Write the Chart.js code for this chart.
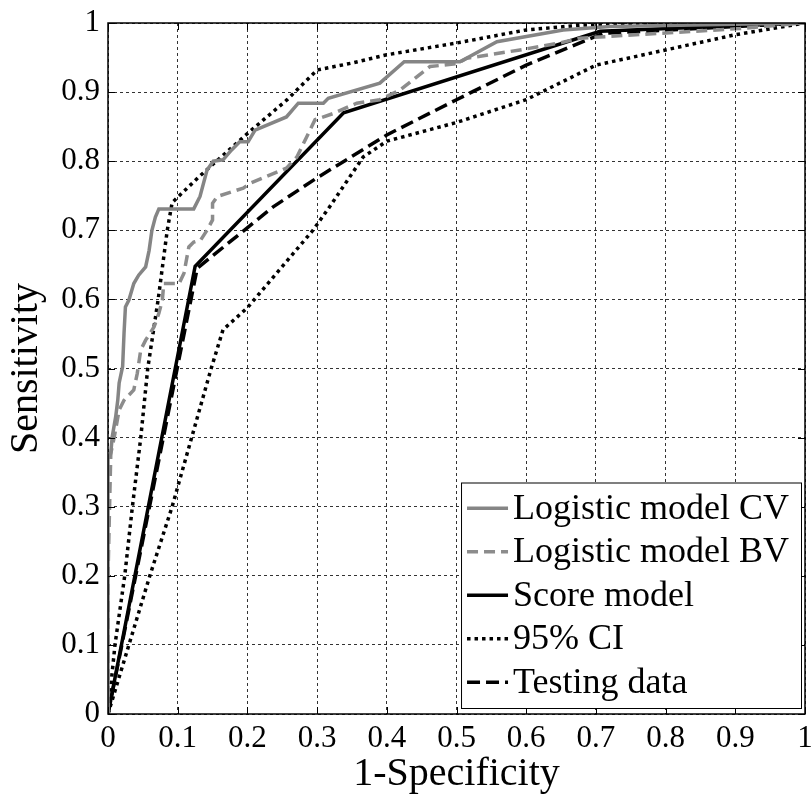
<!DOCTYPE html>
<html>
<head>
<meta charset="utf-8">
<script src="https://cdn.jsdelivr.net/npm/chart.js@4/dist/chart.umd.min.js"></script>
<style>
  html, body { margin: 0; padding: 0; background: #fff; }
  #wrap { width: 812px; height: 798px; }
</style>
</head>
<body>
<div id="wrap"><canvas id="rocChart"></canvas></div>
<script>
// valores (1-especificidad, sensibilidad)
const cvX = [0, 0, 0.004, 0.006, 0.011, 0.014, 0.016, 0.021, 0.023, 0.025, 0.03, 0.037, 0.044, 0.054, 0.059, 0.063, 0.068, 0.073, 0.123, 0.132, 0.142, 0.151, 0.165, 0.177, 0.189, 0.201, 0.211, 0.256, 0.273, 0.309, 0.316, 0.39, 0.425, 0.505, 0.558, 0.653, 0.72, 1];
const cvY = [0, 0.37, 0.377, 0.401, 0.43, 0.454, 0.479, 0.503, 0.551, 0.589, 0.599, 0.623, 0.635, 0.647, 0.671, 0.70, 0.719, 0.731, 0.731, 0.749, 0.787, 0.8, 0.802, 0.816, 0.828, 0.828, 0.845, 0.864, 0.884, 0.884, 0.891, 0.913, 0.944, 0.944, 0.973, 0.99, 0.995, 1];

const bvX = [0, 0, 0.004, 0.009, 0.016, 0.023, 0.037, 0.042, 0.047, 0.054, 0.066, 0.073, 0.078, 0.08, 0.102, 0.109, 0.116, 0.123, 0.133, 0.142, 0.15, 0.15, 0.157, 0.194, 0.204, 0.256, 0.271, 0.297, 0.323, 0.357, 0.39, 0.419, 0.462, 0.5, 0.515, 0.591, 0.648, 0.677, 0.79, 0.907, 1];
const bvY = [0, 0.2, 0.377, 0.401, 0.44, 0.454, 0.469, 0.493, 0.527, 0.541, 0.56, 0.58, 0.599, 0.623, 0.623, 0.638, 0.676, 0.683, 0.686, 0.70, 0.715, 0.739, 0.749, 0.761, 0.768, 0.79, 0.806, 0.86, 0.869, 0.884, 0.889, 0.903, 0.937, 0.941, 0.949, 0.961, 0.971, 0.978, 0.985, 0.992, 1];

const scoreX = [0, 0.125, 0.338, 0.706, 1];
const scoreY = [0, 0.648, 0.87, 0.988, 1];

const ciUpX = [0, 0.01, 0.024, 0.035, 0.047, 0.057, 0.072, 0.085, 0.092, 0.13, 0.2, 0.257, 0.3, 0.35, 0.4, 0.5, 0.6, 0.68, 1];
const ciUpY = [0, 0.1, 0.2, 0.3, 0.4, 0.5, 0.6, 0.7, 0.74, 0.777, 0.84, 0.889, 0.932, 0.942, 0.954, 0.971, 0.99, 0.997, 1];

const ciLowX = [0, 0.03, 0.06, 0.092, 0.12, 0.148, 0.165, 0.2, 0.294, 0.318, 0.366, 0.4, 0.5, 0.6, 0.7, 0.8, 0.9, 1];
const ciLowY = [0, 0.1, 0.2, 0.3, 0.4, 0.5, 0.556, 0.588, 0.7, 0.734, 0.806, 0.829, 0.856, 0.889, 0.939, 0.961, 0.983, 1];

const testX = [0, 0.128, 0.237, 0.3, 0.4, 0.5, 0.6, 0.71, 1];
const testY = [0, 0.645, 0.734, 0.776, 0.838, 0.889, 0.939, 0.985, 1];

const tickValues = [0, 0.1, 0.2, 0.3, 0.4, 0.5, 0.6, 0.7, 0.8, 0.9, 1];

const FONT = '"Liberation Serif", "Times New Roman", serif';

const puntos = (xs, ys) => xs.map((x, i) => ({ x: x, y: ys[i] }));

// marco negro y marcas hacia dentro
const marco = {
    id: 'marco',
    afterDatasetsDraw(chart) {
        const { ctx, chartArea: a, scales } = chart;
        ctx.save();
        ctx.strokeStyle = '#000';
        ctx.lineWidth = 1.5;
        ctx.setLineDash([]);
        ctx.strokeRect(a.left, a.top, a.right - a.left, a.bottom - a.top);
        ctx.lineWidth = 1;
        ctx.beginPath();
        tickValues.forEach(v => {
            const px = Math.round(scales.x.getPixelForValue(v)) + 0.5;
            const py = Math.round(scales.y.getPixelForValue(v)) + 0.5;
            ctx.moveTo(px, a.bottom); ctx.lineTo(px, a.bottom - 7);
            ctx.moveTo(px, a.top); ctx.lineTo(px, a.top + 7);
            ctx.moveTo(a.left, py); ctx.lineTo(a.left + 7, py);
            ctx.moveTo(a.right, py); ctx.lineTo(a.right - 7, py);
        });
        ctx.stroke();
        ctx.restore();
    }
};

// leyenda dentro del area del grafico, abajo a la derecha
const leyenda = {
    id: 'leyenda',
    afterDraw(chart) {
        const { ctx, chartArea: a } = chart;
        const items = chart.data.datasets.filter(d => d.enLeyenda);
        ctx.save();
        ctx.font = '36px ' + FONT;
        const maxW = Math.max(...items.map(d => ctx.measureText(d.label).width));
        const rowH = 43.5;
        const w = 6 + 41 + 5 + maxW + 12;
        const h = items.length * rowH + 8;
        const x0 = a.right - 4 - w;
        const y0 = a.bottom - 6 - h;
        ctx.fillStyle = '#fff';
        ctx.fillRect(x0, y0, w, h);
        ctx.strokeStyle = '#000';
        ctx.lineWidth = 1;
        ctx.setLineDash([]);
        ctx.strokeRect(x0 + 0.5, y0 + 0.5, w, h);
        items.forEach((d, i) => {
            const cy = y0 + 4 + rowH * i + rowH / 2;
            ctx.strokeStyle = d.borderColor;
            ctx.lineWidth = d.borderWidth;
            ctx.setLineDash(d.borderDash || []);
            ctx.beginPath();
            ctx.moveTo(x0 + 6, cy);
            ctx.lineTo(x0 + 47, cy);
            ctx.stroke();
            ctx.setLineDash([]);
            ctx.fillStyle = '#000';
            ctx.textBaseline = 'middle';
            ctx.fillText(d.label, x0 + 52, cy + 1);
        });
        ctx.restore();
    }
};

const etiqueta = v => {
    const n = Number(v.toFixed(1));
    return n.toString();
};

const ctx = document.getElementById('rocChart').getContext('2d');
const rocChart = new Chart(ctx, {
    type: 'scatter',
    data: {
        datasets: [
            {
                label: 'Logistic model CV',
                data: puntos(cvX, cvY),
                borderColor: '#858585',
                borderWidth: 3.5,
                enLeyenda: true
            },
            {
                label: 'Logistic model BV',
                data: puntos(bvX, bvY),
                borderColor: '#8c8c8c',
                borderWidth: 3.5,
                borderDash: [11, 6],
                enLeyenda: true
            },
            {
                label: 'Score model',
                data: puntos(scoreX, scoreY),
                borderColor: '#000',
                borderWidth: 3.5,
                enLeyenda: true
            },
            {
                label: '95% CI',
                data: puntos(ciUpX, ciUpY),
                borderColor: '#000',
                borderWidth: 3.5,
                borderDash: [3.5, 4],
                enLeyenda: true
            },
            {
                label: '95% CI',
                data: puntos(ciLowX, ciLowY),
                borderColor: '#000',
                borderWidth: 3.5,
                borderDash: [3.5, 4],
                enLeyenda: false
            },
            {
                label: 'Testing data',
                data: puntos(testX, testY),
                borderColor: '#000',
                borderWidth: 3.5,
                borderDash: [13, 6],
                enLeyenda: true
            }
        ].map(d => Object.assign(d, {
            showLine: true,
            pointRadius: 0,
            pointHoverRadius: 0,
            fill: false,
            tension: 0,
            borderCapStyle: 'butt',
            borderJoinStyle: 'miter'
        }))
    },
    options: {
        responsive: true,
        maintainAspectRatio: false,
        animation: false,
        layout: { padding: { top: 23, right: 7, left: 0, bottom: 0 } },
        plugins: {
            legend: { display: false },
            tooltip: { enabled: false }
        },
        scales: {
            x: {
                type: 'linear',
                min: 0,
                max: 1,
                afterFit: s => {
                    s.height = 84;
                    s.paddingLeft = 0;
                    s.paddingRight = 0;
                },
                afterBuildTicks: s => { s.ticks = tickValues.map(v => ({ value: v })); },
                ticks: {
                    callback: etiqueta,
                    color: '#000',
                    padding: 6,
                    maxRotation: 0,
                    font: { family: FONT, size: 31 }
                },
                grid: { color: '#333', lineWidth: 1, drawTicks: false },
                border: { display: false, dash: [3, 3] },
                title: {
                    display: true,
                    text: '1-Specificity',
                    color: '#000',
                    padding: { top: 0, bottom: 0 },
                    font: { family: FONT, size: 40 }
                }
            },
            y: {
                type: 'linear',
                min: 0,
                max: 1,
                afterFit: s => {
                    s.width = 108;
                    s.paddingTop = 0;
                    s.paddingBottom = 0;
                },
                afterBuildTicks: s => { s.ticks = tickValues.map(v => ({ value: v })); },
                ticks: {
                    callback: etiqueta,
                    color: '#000',
                    padding: 8,
                    font: { family: FONT, size: 31 }
                },
                grid: { color: '#333', lineWidth: 1, drawTicks: false },
                border: { display: false, dash: [3, 3] },
                title: {
                    display: true,
                    text: 'Sensitivity',
                    color: '#000',
                    padding: { top: 2, bottom: 0 },
                    font: { family: FONT, size: 40 }
                }
            }
        }
    },
    plugins: [marco, leyenda]
});
</script>
</body>
</html>
